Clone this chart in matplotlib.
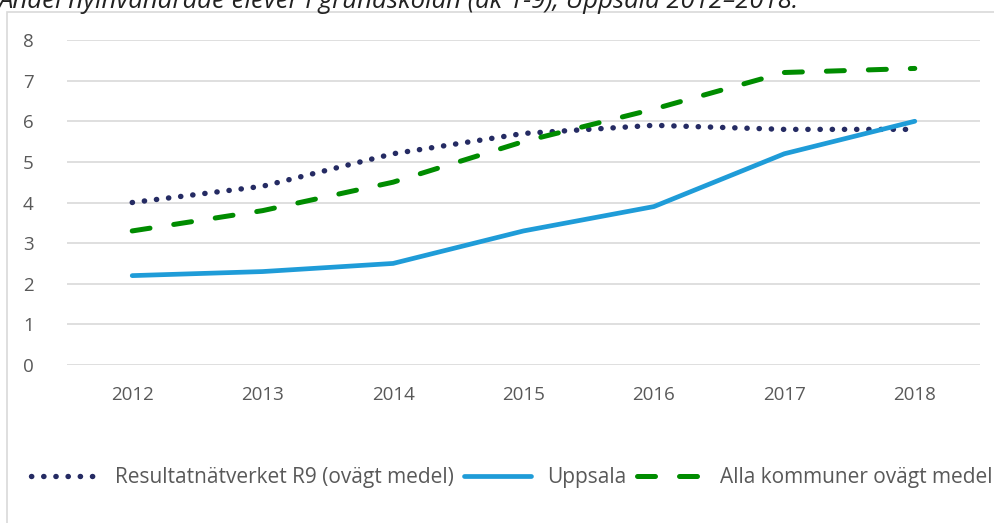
import matplotlib
matplotlib.use("Agg")
import matplotlib.pyplot as plt
from matplotlib.patches import Rectangle

years = ["2012", "2013", "2014", "2015", "2016", "2017", "2018"]
r9 = [4.0, 4.4, 5.2, 5.7, 5.9, 5.8, 5.8]
uppsala = [2.2, 2.3, 2.5, 3.3, 3.9, 5.2, 6.0]
alla = [3.3, 3.8, 4.5, 5.5, 6.3, 7.2, 7.3]
labels = ["Resultatnätverket R9 (ovägt medel)", "Uppsala", "Alla kommuner ovägt medel"]
title = "Andel nyinvandrade elever i grundskolan (åk 1-9), Uppsala 2012–2018."

plt.rcParams['font.family'] = ['Open Sans', 'DejaVu Sans']
W, H = 995, 523
fig = plt.figure(figsize=(W/100, H/100), dpi=100)

# outer frame
fig.patches.append(Rectangle((7/W, -0.01), (W-7+5)/W, (H-12)/H + 0.01, transform=fig.transFigure,
                             fill=False, edgecolor='#d9d9d9', linewidth=1.2))
# clipped title
fig.text(-0.002, (H-8)/H, title, fontsize=18.5, style='italic', color='#222222', va='baseline', ha='left')

ax = fig.add_axes([67/W, (H-365)/H, (980-67)/W, (365-40)/H])
x = range(len(years))
ax.plot(x, r9, color='#252b63', lw=3.9, linestyle=(0, (0.05, 2.2)), dash_capstyle='round', solid_capstyle='round', label=labels[0])
ax.plot(x, uppsala, color='#1f9cd8', lw=3.4, solid_capstyle='round', label=labels[1])
ax.plot(x, alla, color='#008c00', lw=3.6, linestyle=(0, (3.6, 4.8)), dash_capstyle='round', label=labels[2])

ax.set_xlim(-0.5, 6.5)
ax.set_ylim(0, 8)
ax.set_yticks(range(0, 9))
ax.set_xticks(list(x))
ax.set_xticklabels(years)
ax.grid(axis='y', color='#d9d9d9', lw=1.2)
ax.set_axisbelow(True)
for s in ax.spines.values():
    s.set_visible(False)
ax.tick_params(length=0, labelsize=13.5, colors='#595959')
ax.tick_params(axis='y', pad=24)
ax.tick_params(axis='x', pad=15)

leg = fig.legend(loc='center', bbox_to_anchor=(512/W, (H-478)/H), ncol=3, frameon=False,
                 fontsize=15, handlelength=3.2, columnspacing=0.5, handletextpad=0.8)
for t in leg.get_texts():
    t.set_color('#595959')

fig.savefig("out.png", dpi=100)
